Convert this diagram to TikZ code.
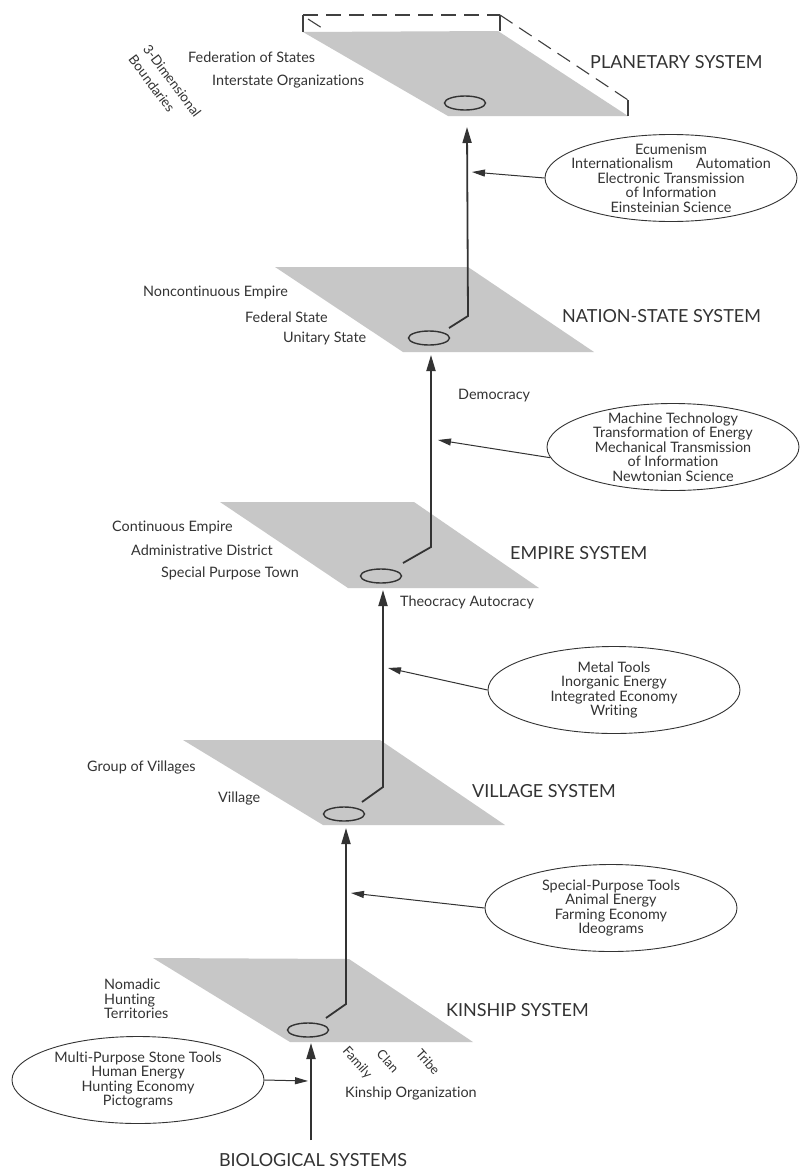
\documentclass[tikz,border=0pt]{standalone}
\usepackage{fontspec}
\setmainfont{Lato}[Ligatures={NoCommon}]
\usetikzlibrary{arrows.meta,shapes.geometric,calc}
\newcommand\smallfnt{\fontsize{14.4}{14.5}\selectfont}
\newcommand\rotfnt{\fontsize{13}{14}\selectfont}
\newcommand\bigfnt{\fontsize{18}{20}\selectfont}
\begin{document}
\begin{tikzpicture}[x=1pt,y=-1pt]
\tikzset{
  plane/.style={fill=black!22, draw=none},
  lbl/.style={font=\smallfnt, text=black!80, inner sep=0pt},
  rotlbl/.style={font=\rotfnt, text=black!80, inner sep=0pt, rotate=-48},
  syslbl/.style={font=\bigfnt, text=black!80, inner sep=0pt},
  cause/.style={ellipse, draw=black!80, line width=0.9pt, minimum width=252pt, minimum height=87pt, inner sep=0pt},
  causetext/.style={font=\smallfnt, align=center, text=black!80, inner sep=0pt},
  hub/.style={ellipse, draw=black!80, line width=1.4pt, minimum width=41pt, minimum height=14pt, inner sep=0pt},
  mainflow/.style={draw=black!80, line width=1.8pt, -{Triangle[length=16pt,width=9pt]}},
  feed/.style={draw=black!80, line width=1pt, -{Triangle[length=13pt,width=7pt]}},
  boxedge/.style={draw=black!75, line width=1.1pt, dash pattern=on 15pt off 8pt},
  boxpost/.style={draw=black!75, line width=1.1pt}
}
\useasboundingbox[fill=white] (0,0) rectangle (802,1170);

% planes
\fill[plane] (303,32) -- (498,31) -- (628,116) -- (448,116) -- cycle;
\fill[plane] (275,267) -- (468,267) -- (594,352) -- (403,352) -- cycle;
\fill[plane] (220,502) -- (414,502) -- (539,588) -- (348,588) -- cycle;
\fill[plane] (183,740) -- (380,740) -- (505,825) -- (323,825) -- cycle;
\fill[plane] (153,958) -- (349,959) -- (473,1042) -- (290,1042) -- cycle;

% 3-D boundary box
\draw[boxpost] (303,32) -- (303,15);
\draw[boxpost] (500,31) -- (500,15);
\draw[boxpost] (628,116) -- (628,100);
\draw[boxedge] (303,15) -- (500,15);
\draw[boxedge] (500,15) -- (628,100);
\draw[boxedge] (308,19) -- (322,28);

% hubs
\node[hub] (plan) at (465,103) {};
\node[hub] (nat) at (429,338) {};
\node[hub] (emp) at (381,576) {};
\node[hub] (vil) at (344,814) {};
\node[hub] (kin) at (308,1030) {};

% system labels
\node[syslbl, anchor=west] (planl) at (590,62) {PLANETARY SYSTEM};
\node[syslbl, anchor=west] (natl) at (562,316) {NATION-STATE SYSTEM};
\node[syslbl, anchor=west] (empl) at (510,553) {EMPIRE SYSTEM};
\node[syslbl, anchor=west] (vill) at (472,791) {VILLAGE SYSTEM};
\node[syslbl, anchor=west] (kinl) at (446,1010) {KINSHIP SYSTEM};
\node[syslbl] (biol) at (313,1160) {BIOLOGICAL SYSTEMS};

% small labels
\node[lbl, anchor=west] (fed) at (188,57) {Federation of States};
\node[lbl, anchor=west] (inter) at (212,82) {Interstate Organizations};
\node[lbl, rotate=-53, align=left, font=\fontsize{13.5}{18}\selectfont] (dim) at (165,86) {3-Dimensional\\Boundaries};
\node[lbl, anchor=west] (nonc) at (143,292) {Noncontinuous Empire};
\node[lbl, anchor=west] (fedst) at (245,317) {Federal State};
\node[lbl, anchor=west] (unit) at (283,338) {Unitary State};
\node[lbl, anchor=west] (demo) at (458,396) {Democracy};
\node[lbl, anchor=west] (cont) at (112,527) {Continuous Empire};
\node[lbl, anchor=west] (admin) at (131,550) {Administrative District};
\node[lbl, anchor=west] (spt) at (161,573) {Special Purpose Town};
\node[lbl, anchor=west] (theo) at (400,602) {Theocracy Autocracy};
\node[lbl, anchor=west] (gov) at (87,768) {Group of Villages};
\node[lbl, anchor=west] (villg) at (218,799) {Village};
\node[lbl, anchor=west, align=left] (nomad) at (104,999) {Nomadic\\Hunting\\Territories};
\node[rotlbl] (fam) at (357,1063) {Family};
\node[rotlbl] (clan) at (388,1061) {Clan};
\node[rotlbl] (tribe) at (428,1062) {Tribe};
\node[lbl, anchor=west] (kinorg) at (345,1093) {Kinship Organization};

% cause ellipses
\node[cause] (ecu) at (671,178) {};
\node[causetext] (ecut) at (ecu) {Ecumenism\\Internationalism\hspace{1.6em}Automation\\Electronic Transmission\\of Information\\Einsteinian Science};
\node[cause] (mach) at (673,447) {};
\node[causetext] (macht) at (mach) {Machine Technology\\Transformation of Energy\\Mechanical Transmission\\of Information\\Newtonian Science};
\node[cause] (metal) at (614,690) {};
\node[causetext] (metalt) at (metal) {Metal Tools\\Inorganic Energy\\Integrated Economy\\Writing};
\node[cause] (spec) at (611,908) {};
\node[causetext] (spect) at (spec) {Special-Purpose Tools\\Animal Energy\\Farming Economy\\Ideograms};
\node[cause] (multi) at (138,1080) {};
\node[causetext] (multit) at (multi) {Multi-Purpose Stone Tools\\Human Energy\\Hunting Economy\\Pictograms};

% coordinates for free ends
\coordinate (biobase) at (311,1140);
\coordinate (kintip) at (311,1043);
\coordinate (kinbend) at (346,1004);
\coordinate (viltip) at (346,828);
\coordinate (vilbend) at (383,787);
\coordinate (emptip) at (383,590);
\coordinate (empbend) at (431,547);
\coordinate (nattip) at (431,355);
\coordinate (natbend) at (468,316);
\coordinate (plantip) at (467,127);

% main evolutionary path
\draw[mainflow] (biobase) -- (kintip);
\draw[mainflow] ($(kin)+(18,-12)$) -- (kinbend) -- (viltip);
\draw[mainflow] ($(vil)+(18,-12)$) -- (vilbend) -- (emptip);
\draw[mainflow] ($(emp)+(22,-13)$) -- (empbend) -- (nattip);
\draw[mainflow] ($(nat)+(20,-10)$) -- (natbend) -- (plantip);

% feeding factors
\coordinate (ecutip) at (472,172);
\coordinate (machtip) at (438,440);
\coordinate (metaltip) at (388,668);
\coordinate (spectip) at (351,893);
\coordinate (multitip) at (308,1081);
\draw[feed] (ecu.west) -- (ecutip);
\draw[feed] (mach.185) -- (machtip);
\draw[feed] (metal.west) -- (metaltip);
\draw[feed] (spec.west) -- (spectip);
\draw[feed] (multi.east) -- (multitip);
\end{tikzpicture}
\end{document}
